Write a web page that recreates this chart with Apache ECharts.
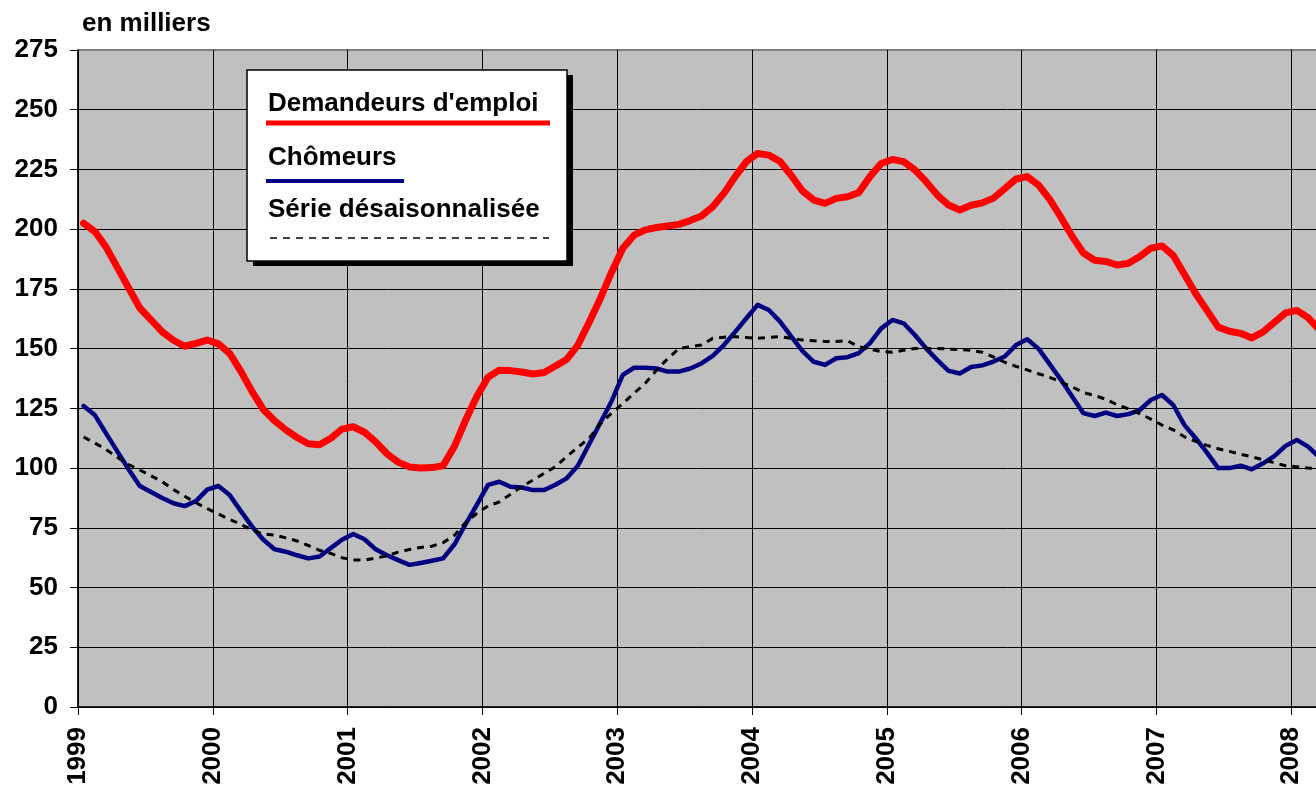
<!DOCTYPE html>
<html>
<head>
<meta charset="utf-8">
<script src="https://cdn.jsdelivr.net/npm/echarts@6/dist/echarts.min.js"></script>
<style>
  html, body { margin: 0; padding: 0; background: #fff; }
  #chart { width: 1316px; height: 787px; }
</style>
</head>
<body>
<div id="chart"></div>
<script>
// year tick labels, one every 12 months
const years = ['1999', '2000', '2001', '2002', '2003', '2004', '2005', '2006', '2007', '2008', '2009'];

const seriesNames = ["Demandeurs d'emploi", 'Chômeurs', 'Série désaisonnalisée'];

// monthly values, thousands, from Jan 1999
const demandeurs = [
  202.5, 199, 192.5, 184, 175.5, 167, 162, 157, 153.5, 151, 152.2, 153.6,
  152, 148, 140.5, 132, 124.5, 119.8, 116, 112.8, 110.2, 109.8, 112.5, 116.3,
  117.3, 115, 111, 106, 102.5, 100.5, 100, 100.2, 101, 109, 120, 130,
  138, 141, 140.8, 140.2, 139.4, 140, 142.7, 145.5, 151.5, 161, 171, 182,
  192, 197.5, 199.7, 200.7, 201.3, 202, 203.6, 205.5, 209.4, 215, 222, 228.3,
  231.7, 231, 228.3, 222.5, 216, 212.2, 210.8, 212.9, 213.6, 215.3, 222, 227.5,
  229.2, 228.3, 224.8, 219.9, 214.3, 210.1, 208, 210, 211, 213, 217, 221,
  222, 218.5, 212.5, 205, 197, 190, 187, 186.5, 185, 185.7, 188.5, 192,
  193, 189, 181, 173, 166, 159, 157.3, 156.4, 154.5, 157, 161, 165,
  166, 163, 158
];

const chomeurs = [
  126, 122.2, 114.5, 107, 99.5, 92.5, 90, 87.5, 85.3, 84.1, 86.2, 91,
  92.5, 88.7, 82, 75.5, 70, 66, 65, 63.5, 62.2, 63, 66.5, 70,
  72.4, 70.2, 66, 63.5, 61.5, 59.5, 60.3, 61.2, 62.2, 68, 76.5, 84.6,
  93, 94.3, 92.2, 91.9, 90.8, 90.8, 93, 95.7, 101, 110, 119, 128,
  139, 142, 142, 141.7, 140.4, 140.4, 141.7, 143.8, 147, 151.5, 157, 162.7,
  168.3, 166.2, 161.3, 155, 149, 144.5, 143.2, 146, 146.4, 148.1, 152.3, 158.5,
  162, 160.6, 155.7, 150.1, 145.2, 140.7, 139.6, 142.3, 143, 144.6, 146.7, 151.5,
  153.9, 150, 143.5, 137, 130, 123, 121.8, 123.2, 121.8, 122.6, 124.2, 128.5,
  130.6, 126.4, 118, 112.5, 106.5, 100, 100, 101, 99.5, 102, 105, 109.3,
  111.8, 109, 104.5
];

const serieCvs = [
  113, 110.5, 107.8, 104.5, 101.5, 99.2, 96.8, 94.3, 91, 88.2, 85.5, 83,
  80.8, 78.5, 76.5, 74, 72.4, 72, 70.8, 69.5, 67.6, 65.6, 64.3, 62.5,
  61.5, 61.5, 62.3, 63.3, 64.8, 65.9, 66.8, 67.3, 68.8, 71.8, 77.2, 81,
  84.2, 85.8, 89, 92.2, 95, 97.8, 100.6, 104.8, 108.7, 112.5, 118.5, 123,
  127, 131.3, 135.5, 141, 145.8, 150, 150.8, 151.5, 154.3, 154.8, 155, 154.7,
  154.3, 154.7, 155, 154.3, 153.6, 153.3, 153, 153, 153.3, 150.8, 149.8, 148.8,
  148.5, 149.3, 150.1, 150.1, 150.1, 149.8, 149.6, 149.3, 148.5, 146.5, 144.3, 142.6,
  141.1, 139.5, 138, 136, 134, 131.6, 130.4, 128.8, 126.5, 124.8, 122.8, 120.5,
  118, 116, 113.1, 111.2, 109.5, 108.1, 107, 105.8, 104.7, 103.5, 102.2, 101,
  100.6, 100, 99.8
];

// points sit mid-month on a month-index axis
const toPoints = arr => arr.map((v, i) => [i + 0.5, v]);

const FONT = '"Liberation Sans", Arial, sans-serif';
const labelStyle = { fontSize: 26, fontWeight: 'bold', fontFamily: FONT, color: '#000' };

const chart = echarts.init(document.getElementById('chart'));

chart.setOption({
  animation: false,
  backgroundColor: '#fff',
  grid: {
    left: 78, top: 50, width: 1348, height: 657,
    outerBoundsMode: 'none', containLabel: false,
    show: true, backgroundColor: '#c0c0c0', borderColor: '#808080', borderWidth: 2
  },
  xAxis: {
    type: 'value', min: 0, max: 120, interval: 12,
    axisLine: { lineStyle: { color: '#000', width: 1.5 } },
    axisTick: { length: 8, lineStyle: { color: '#000' } },
    axisLabel: Object.assign({ rotate: 90, margin: 20, formatter: v => years[v / 12] }, labelStyle),
    splitLine: { lineStyle: { color: '#000', width: 1 } }
  },
  yAxis: {
    type: 'value', min: 0, max: 275, interval: 25,
    name: 'en milliers', nameLocation: 'end', nameGap: 26,
    nameTextStyle: Object.assign({ align: 'left', verticalAlign: 'middle', padding: [0, 0, 0, 4] }, labelStyle),
    axisLine: { show: true, lineStyle: { color: '#000', width: 1.5 } },
    axisTick: { show: true, length: 8, lineStyle: { color: '#000' } },
    axisLabel: Object.assign({ margin: 20 }, labelStyle),
    splitLine: {
      lineStyle: {
        color: ['#000', '#000', '#000', '#000', '#000', '#000', '#000', '#000', '#000', '#000', '#000', '#808080'],
        width: 1
      }
    }
  },
  series: [
    {
      name: seriesNames[0], type: 'line', data: toPoints(demandeurs), symbol: 'none', z: 3,
      lineStyle: { color: '#ff0000', width: 7, cap: 'round', join: 'round' }
    },
    {
      name: seriesNames[1], type: 'line', data: toPoints(chomeurs), symbol: 'none', z: 4,
      lineStyle: { color: '#000080', width: 4.5, cap: 'round', join: 'round' }
    },
    {
      name: seriesNames[2], type: 'line', data: toPoints(serieCvs), symbol: 'none', z: 5,
      lineStyle: { color: '#000', width: 3, type: [7, 6] }
    }
  ],
  // legend box: text with its line sample underneath
  graphic: [
    { type: 'rect', z: 100, shape: { x: 253, y: 75, width: 320, height: 191 }, style: { fill: '#000' } },
    { type: 'rect', z: 101, shape: { x: 247, y: 70, width: 320, height: 191 }, style: { fill: '#fff', stroke: '#000', lineWidth: 1.5 } },
    { type: 'text', z: 102, style: { x: 268, y: 104, text: seriesNames[0], font: 'bold 26px ' + FONT, fill: '#000', verticalAlign: 'middle' } },
    { type: 'line', z: 102, shape: { x1: 266, y1: 123, x2: 550, y2: 123 }, style: { stroke: '#ff0000', lineWidth: 5 } },
    { type: 'text', z: 102, style: { x: 268, y: 158, text: seriesNames[1], font: 'bold 26px ' + FONT, fill: '#000', verticalAlign: 'middle' } },
    { type: 'line', z: 102, shape: { x1: 266, y1: 181, x2: 404, y2: 181 }, style: { stroke: '#000080', lineWidth: 4 } },
    { type: 'text', z: 102, style: { x: 268, y: 210, text: seriesNames[2], font: 'bold 26px ' + FONT, fill: '#000', verticalAlign: 'middle' } },
    { type: 'line', z: 102, shape: { x1: 270, y1: 238, x2: 549, y2: 238 }, style: { stroke: '#000', lineWidth: 1.5, lineDash: [7, 6] } }
  ]
});
</script>
</body>
</html>
